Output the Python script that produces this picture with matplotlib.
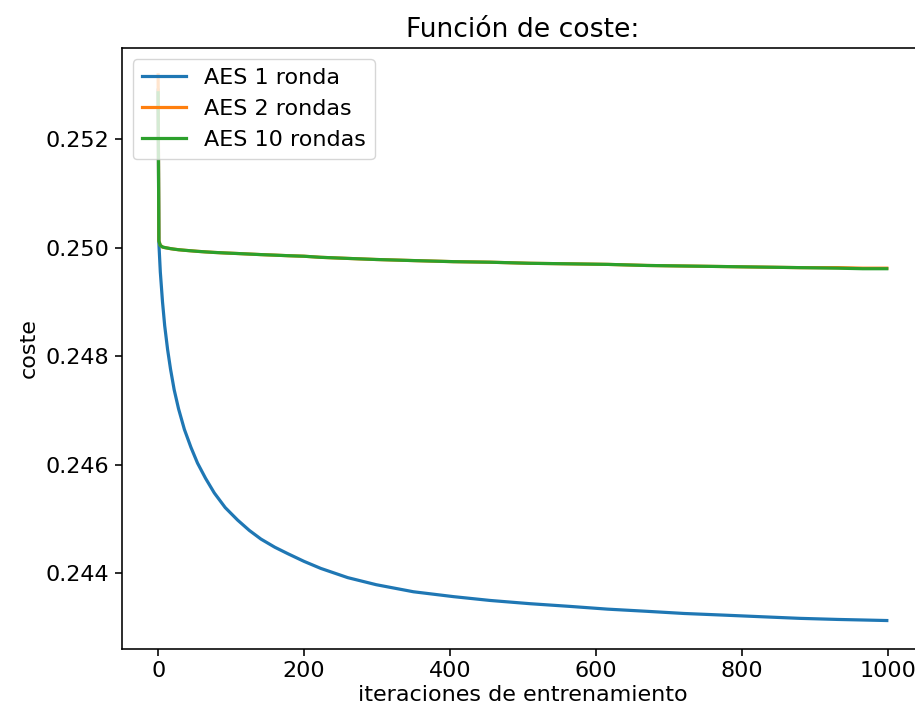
import matplotlib
matplotlib.use("Agg")
import matplotlib.pyplot as plt

iteraciones = [0, 1, 3, 6, 9, 13, 17, 22, 28, 36, 45, 54, 65, 77, 92, 109, 125, 141,
               160, 178, 200, 223, 260, 299, 350, 405, 455, 510, 565, 616, 670, 721,
               775, 827, 880, 932, 966, 999]

coste_1_ronda = [0.25290, 0.25009, 0.24955, 0.24900, 0.24856, 0.24812, 0.24776, 0.24738,
                 0.24703, 0.24665, 0.24632, 0.24603, 0.24575, 0.24548, 0.24521, 0.24498,
                 0.24479, 0.24463, 0.24448, 0.24436, 0.24422, 0.24409, 0.24392, 0.24379,
                 0.24366, 0.24357, 0.24350, 0.24344, 0.24339, 0.24334, 0.24330, 0.24326,
                 0.24323, 0.24320, 0.24317, 0.24315, 0.24314, 0.24313]

coste_2_rondas = [0.25318, 0.25013, 0.25004, 0.25001, 0.25000, 0.24999, 0.24998, 0.24997,
                  0.24996, 0.24995, 0.24994, 0.24993, 0.24992, 0.24991, 0.24990, 0.24989,
                  0.24988, 0.24987, 0.24986, 0.24985, 0.24984, 0.24982, 0.24980, 0.24978,
                  0.24976, 0.24974, 0.24973, 0.24971, 0.24970, 0.24969, 0.24967, 0.24966,
                  0.24965, 0.24964, 0.24963, 0.24963, 0.24962, 0.24962]

coste_10_rondas = [0.25285, 0.25012, 0.25004, 0.25001, 0.25000, 0.24999, 0.24998, 0.24997,
                   0.24996, 0.24995, 0.24994, 0.24993, 0.24992, 0.24991, 0.24990, 0.24989,
                   0.24988, 0.24987, 0.24986, 0.24985, 0.24984, 0.24982, 0.24980, 0.24978,
                   0.24976, 0.24974, 0.24973, 0.24971, 0.24970, 0.24969, 0.24967, 0.24966,
                   0.24965, 0.24964, 0.24963, 0.24962, 0.24961, 0.24961]

etiquetas = ['AES 1 ronda', 'AES 2 rondas', 'AES 10 rondas']

esc = 1.6
plt.rcParams['font.family'] = ['DejaVu Sans']
plt.rcParams['font.size'] = 10 * esc
plt.rcParams['axes.linewidth'] = 0.8 * 1.45
plt.rcParams['xtick.major.size'] = 3.5 * 1.5
plt.rcParams['ytick.major.size'] = 3.5 * 1.5
plt.rcParams['xtick.major.width'] = 0.8 * 1.45
plt.rcParams['ytick.major.width'] = 0.8 * 1.45

fig = plt.figure(figsize=(9.15, 7.16), dpi=100)
ax = fig.add_axes([0.133, 0.0936, 0.876, 0.8394])

lw = 2.3
ax.plot(iteraciones, coste_1_ronda, label=etiquetas[0], linewidth=lw)
ax.plot(iteraciones, coste_2_rondas, label=etiquetas[1], linewidth=lw)
ax.plot(iteraciones, coste_10_rondas, label=etiquetas[2], linewidth=lw)

ax.set_xlim(-49.95, 1048.95)
ax.set_ylim(0.242606, 0.253676)
ax.set_xticks([0, 200, 400, 600, 800, 1000])
ax.set_yticks([0.244, 0.246, 0.248, 0.250, 0.252])
ax.set_yticklabels(['0.244', '0.246', '0.248', '0.250', '0.252'])

ax.set_title('Función de coste:', fontsize=12 * esc, pad=8)
ax.set_xlabel('iteraciones de entrenamiento', labelpad=3)
ax.set_ylabel('coste', labelpad=5)
ax.legend(loc='upper left', borderaxespad=0.5)

fig.savefig('out.png', dpi=100)
